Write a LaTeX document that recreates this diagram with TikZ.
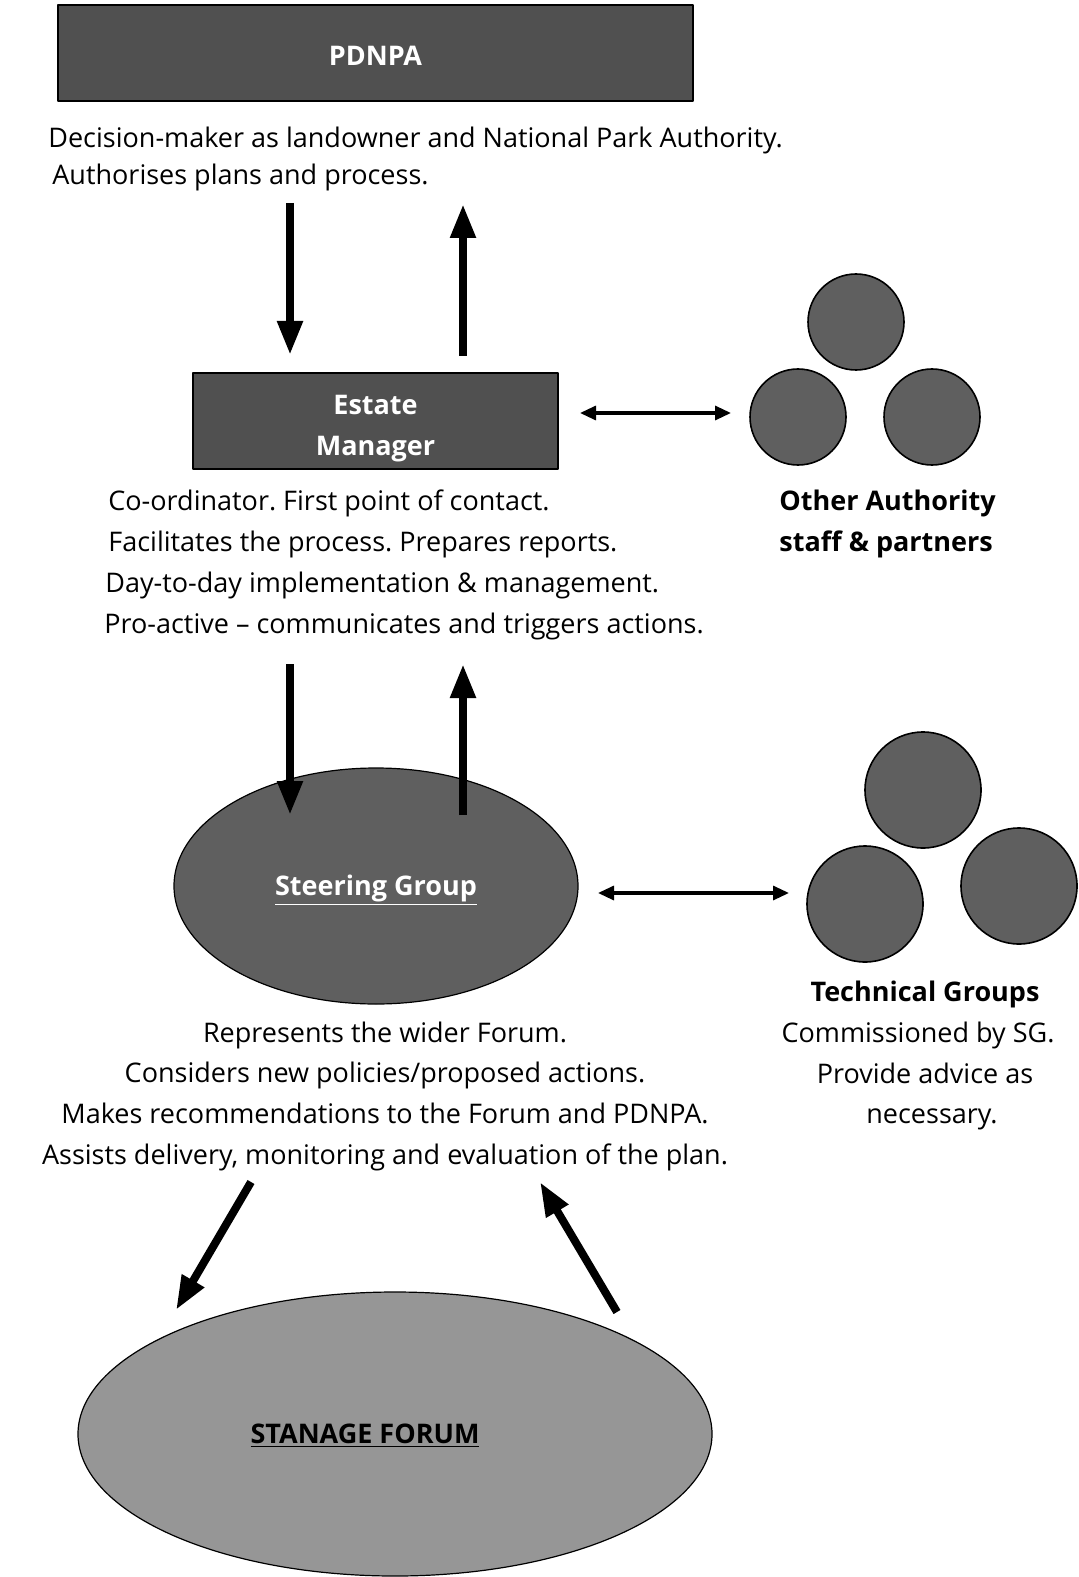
\documentclass[tikz,border=0pt]{standalone}
\usepackage{fontspec}
\setmainfont{Open Sans}
\usetikzlibrary{arrows.meta,shapes.geometric}
\definecolor{boxgray}{HTML}{505050}
\definecolor{blobgray}{HTML}{5F5F5F}
\definecolor{forumgray}{HTML}{969696}
\frenchspacing

\begin{document}
\begin{tikzpicture}[line cap=round,line join=round,x=0.5pt,y=-0.5pt,
    txt/.style={inner sep=0pt,font=\fontsize{13.5}{20.5}\selectfont},
    bold/.style={inner sep=0pt,font=\bfseries\fontsize{13.5}{20.5}\selectfont},
    box/.style={draw=black,line width=0.8pt,fill=boxgray,inner sep=0pt},
    blob/.style={circle,draw=black,line width=0.8pt,fill=blobgray,inner sep=0pt},
    oval/.style={ellipse,draw=black,line width=0.6pt,inner sep=0pt},
    bigarrow/.style={line width=4pt,line cap=butt,-{Triangle[length=17pt,width=12pt]}},
    twoway/.style={line width=1.6pt,line cap=butt,{Triangle[length=8pt,width=7pt]}-{Triangle[length=8pt,width=7pt]}}]
  \useasboundingbox (0,0) rectangle (1078,1577);
  \node[box,minimum width=317.5pt,minimum height=48pt] (pdnpa) at (375.5,53) {};
  \node[bold,text=white,text depth=0pt] (pdnpatxt) at (375.5,56) {PDNPA};
  \node[txt,anchor=base west] (pdtxt1) at (48,148) {Decision-maker as landowner and National Park Authority.};
  \node[txt,anchor=base west] (pdtxt2) at (52,185) {Authorises plans and process.};
  \node[box,minimum width=182.5pt,minimum height=48pt] (estate) at (375.5,421) {};
  \node[bold,text=white,align=center] (estatetxt) at (375.5,429) {Estate\\Manager};
  \foreach \t/\xx [count=\i] in {Co-ordinator. First point of contact./108,
      Facilitates the process. Prepares reports./108,
      Day-to-day implementation \& management./105,
      Pro-active -- communicates and triggers actions./104}
    \node[txt,anchor=base west] (esttxt\i) at (\xx,{510+41*(\i-1)}) {\t};
  \node[blob,minimum size=48pt] (other1) at (856,322) {};
  \node[blob,minimum size=48pt] (other2) at (798,417) {};
  \node[blob,minimum size=48pt] (other3) at (932,417) {};
  \node[bold,anchor=base west] (othertxt1) at (779,510) {Other Authority};
  \node[bold,anchor=base west] (othertxt2) at (779,551) {staff \& partners};
  \node[oval,fill=blobgray,minimum width=202pt,minimum height=118pt] (steer) at (376,886) {};
  \node[bold,text=white] (steertxt) at (376,890) {\underline{Steering Group}};
  \foreach \t [count=\i] in {Represents the wider Forum.,
      Considers new policies/proposed actions.,
      Makes recommendations to the Forum and PDNPA.,
      {Assists delivery, monitoring and evaluation of the plan.}}
    \node[txt,anchor=base] (steertxt\i) at (385,{1042+40.7*(\i-1)}) {\t};
  \node[blob,minimum size=58pt] (tech1) at (923,790) {};
  \node[blob,minimum size=58pt] (tech2) at (865,904) {};
  \node[blob,minimum size=58pt] (tech3) at (1019,886) {};
  \node[bold,anchor=base] (techtxt1) at (925,1001) {Technical Groups};
  \node[txt,anchor=base] (techtxt2) at (918,1042) {Commissioned by SG.};
  \node[txt,anchor=base] (techtxt3) at (925,1083) {Provide advice as};
  \node[txt,anchor=base] (techtxt4) at (932,1123) {necessary.};
  \node[oval,fill=forumgray,minimum width=317pt,minimum height=142pt] (forum) at (395,1434) {};
  \node[bold] (forumtxt) at (365,1436) {\underline{STANAGE FORUM}};
  \coordinate (pddown1) at (290,203);
  \coordinate (pddown2) at (290,355);
  \coordinate (pdup1) at (463,356);
  \coordinate (pdup2) at (463,204);
  \coordinate (sgdown1) at (290,664);
  \coordinate (sgdown2) at (290,815);
  \coordinate (sgup1) at (463,815);
  \coordinate (sgup2) at (463,664);
  \coordinate (fmdown1) at (251,1182);
  \coordinate (fmdown2) at (176,1310);
  \coordinate (fmup1) at (617,1312);
  \coordinate (fmup2) at (540,1182);
  \coordinate (estright) at (580,413);
  \coordinate (otherleft) at (731,413);
  \coordinate (steerright) at (598,893);
  \coordinate (techleft) at (789,893);
  \draw[bigarrow] (pddown1) -- (pddown2);
  \draw[bigarrow] (pdup1) -- (pdup2);
  \draw[bigarrow] (sgdown1) -- (sgdown2);
  \draw[bigarrow] (sgup1) -- (sgup2);
  \draw[bigarrow] (fmdown1) -- (fmdown2);
  \draw[bigarrow] (fmup1) -- (fmup2);
  \draw[twoway] (estright) -- (otherleft);
  \draw[twoway] (steerright) -- (techleft);
\end{tikzpicture}
\end{document}
